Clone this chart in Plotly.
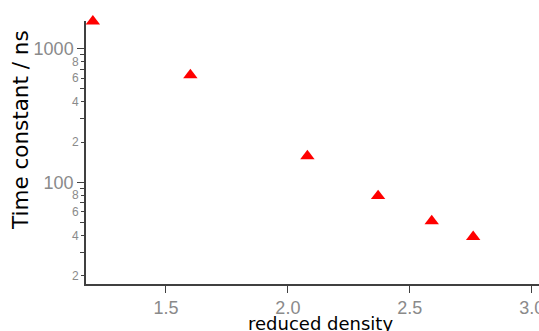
import plotly.graph_objects as go

density = [1.20, 1.60, 2.08, 2.37, 2.59, 2.76]
time_ns = [1600, 634, 157, 79, 51.3, 39.1]

x_ticks = [1.5, 2.0, 2.5, 3.0]
x_ticktext = ["1.5", "2.0", "2.5", "3.0"]
y_major = [100, 1000]
y_major_text = ["100", "1000"]
y_minor_lab = [20, 40, 60, 80, 200, 400, 600, 800]
y_minor_text = ["2", "4", "6", "8", "2", "4", "6", "8"]
y_minor_nolab = [30, 50, 70, 90, 300, 500, 700, 900]

x_range = [1.1719, 3.030]
y_range = [1.239, 3.206]

AX = "#404040"
TK = "#8a8a8a"
FONT = "Liberation Sans, Arial, sans-serif"
TFONT = "DejaVu Sans, sans-serif"

fig = go.Figure()
fig.add_trace(go.Scatter(
    x=density, y=time_ns, mode="markers",
    marker=dict(symbol="triangle-up", size=12.5, color="#ff0000", line=dict(width=0)),
    cliponaxis=False, showlegend=False,
))
fig.add_trace(go.Scatter(
    x=density, y=time_ns, mode="markers", yaxis="y2",
    marker=dict(opacity=0), showlegend=False, hoverinfo="skip",
))

fig.update_layout(
    width=539, height=331,
    margin=dict(l=86, r=0, t=21, b=47, autoexpand=False),
    paper_bgcolor="white", plot_bgcolor="white",
    font=dict(family=FONT),
    xaxis=dict(
        range=x_range, tickvals=x_ticks, ticktext=x_ticktext, automargin=False,
        ticklabeloverflow="allow",
        ticks="outside", ticklen=7, tickcolor=AX, tickwidth=1,
        showline=True, linecolor=AX, linewidth=1.5,
        showgrid=False, zeroline=False,
        tickfont=dict(size=18, color=TK, family=FONT),
    ),
    yaxis=dict(
        type="log", range=y_range, tickvals=y_major, ticktext=y_major_text, automargin=False,
        ticklabeloverflow="allow",
        ticks="outside", ticklen=7, tickcolor=AX, tickwidth=1,
        showline=True, linecolor=AX, linewidth=1.5,
        showgrid=False, zeroline=False,
        tickfont=dict(size=18, color=TK, family=FONT),
        minor=dict(tickvals=y_minor_nolab, ticks="outside", ticklen=4, tickcolor=AX, showgrid=False),
    ),
    yaxis2=dict(
        type="log", range=y_range, overlaying="y", side="left", automargin=False,
        ticklabeloverflow="allow",
        tickvals=y_minor_lab, ticktext=y_minor_text,
        ticks="outside", ticklen=4, tickcolor=AX, tickwidth=1,
        showline=False, showgrid=False, zeroline=False,
        tickfont=dict(size=12, color=TK, family=FONT),
    ),
    annotations=[
        dict(text="reduced density", xref="paper", yref="paper",
             x=(320 - 86) / 453, y=(284 - 323) / 263, xanchor="center", yanchor="middle",
             showarrow=False, font=dict(size=18, color="black", family=TFONT)),
        dict(text="Time constant / ns", xref="paper", yref="paper",
             x=(20 - 86) / 453, y=(284 - 130) / 263, xanchor="center", yanchor="middle",
             textangle=-90, showarrow=False, font=dict(size=21.5, color="black", family=TFONT)),
    ],
)

fig.write_html("out.html", config={"displayModeBar": False},
               post_script="document.body.style.margin='0';document.body.style.overflow='hidden';")
